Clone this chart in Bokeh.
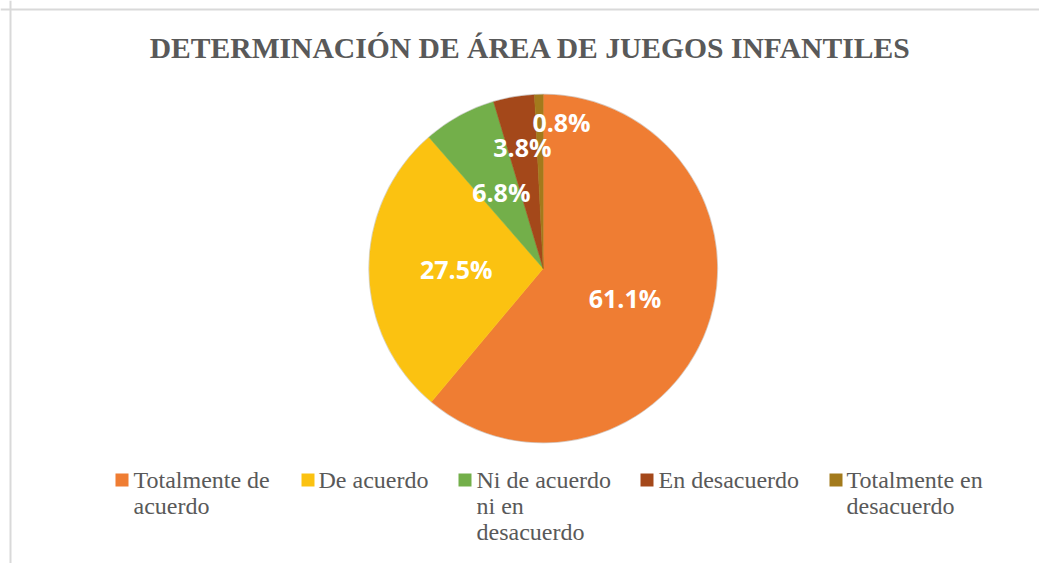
import numpy as np
from bokeh.plotting import figure
from bokeh.models import Range1d, ColumnDataSource, Span
from bokeh.core.properties import value
from bokeh.embed import file_html
from bokeh.resources import INLINE

# ---------------- data ----------------
title_text = "DETERMINACIÓN DE ÁREA DE JUEGOS INFANTILES"
categories = ["Totalmente de acuerdo", "De acuerdo", "Ni de acuerdo ni en desacuerdo",
              "En desacuerdo", "Totalmente en desacuerdo"]
values = [61.1, 27.5, 6.8, 3.8, 0.8]
legend_lines = [["Totalmente de", "acuerdo"], ["De acuerdo"],
                ["Ni de acuerdo", "ni en", "desacuerdo"], ["En desacuerdo"],
                ["Totalmente en", "desacuerdo"]]

# ---------------- styles / layout ----------------
colors = ["#EF7D33", "#FBC211", "#73AF4A", "#A4481A", "#A37A1C"]
label_rfrac = [0.5, 0.5, 0.5, 0.71, 0.84]
label_dx = [0, 0, 0, 0, 22]
legend_marker_x = [115, 301, 458, 640, 829]   # page px, left of swatch
legend_text_x = [133, 318, 476, 658, 846]

W, H = 1039, 563
def px(x): return x
def py(y): return H - y

CX, CY, R = px(542.7), py(268), 174

p = figure(width=W, height=H, output_backend="svg", toolbar_location=None,
           x_range=Range1d(0, W), y_range=Range1d(0, H), min_border=0,
           x_axis_type=None, y_axis_type=None)
p.grid.visible = False
p.outline_line_color = None
p.background_fill_color = "white"
p.border_fill_color = "white"

# chart frame lines (top and left visible)
p.add_layout(Span(location=px(10), dimension="height", line_color="#d9d9d9", line_width=2))
p.add_layout(Span(location=py(9), dimension="width", line_color="#d9d9d9", line_width=2))

# ---------------- pie ----------------
vals = np.array(values, dtype=float)
frac = vals / vals.sum()
cum = np.concatenate([[0], np.cumsum(frac)])
start = np.pi / 2 - 2 * np.pi * cum[:-1]
end = np.pi / 2 - 2 * np.pi * cum[1:]
src = ColumnDataSource(dict(start=start, end=end, color=colors, cat=categories))
p.wedge(x=CX, y=CY, radius=R, start_angle="start", end_angle="end", direction="clock",
        fill_color="color", line_color="color", line_width=0.5, source=src)
p.circle(x=[CX], y=[CY], radius=R + 0.5, fill_color=None, line_color="#bbbbbb",
         line_alpha=0.5, line_width=1)

# labels
mid = 2 * np.pi * (cum[:-1] + cum[1:]) / 2
lx = CX + np.sin(mid) * R * np.array(label_rfrac) + np.array(label_dx)
ly = CY + np.cos(mid) * R * np.array(label_rfrac)
labels = [f"{v:.1f}%" for v in values]
p.text(x=lx, y=ly, text=labels, text_font=value("Open Sans"), text_font_style="bold",
       text_font_size="25px", text_color="white", text_align="center",
       text_baseline="alphabetic")

# title
p.text(x=[px(530)], y=[py(47)], text=[title_text], text_font=value("Liberation Serif"),
       text_font_style="bold", text_font_size="29.6px", text_color="#595959",
       text_align="center", text_baseline="alphabetic")

# ---------------- legend ----------------
sq = 13
p.rect(x=[px(x + sq / 2) for x in legend_marker_x], y=[py(479.5)] * len(colors),
       width=sq, height=sq, fill_color=colors, line_color=None)
tx, ty, tt = [], [], []
for i, lines in enumerate(legend_lines):
    for j, line in enumerate(lines):
        tx.append(px(legend_text_x[i]))
        ty.append(py(479.3 + 26.3 * j))
        tt.append(line)
p.text(x=tx, y=ty, text=tt, text_font=value("Liberation Serif"), text_font_size="24px",
       text_color="#595959", text_align="left", text_baseline="alphabetic")

open("out.html", "w").write(file_html(p, INLINE))
